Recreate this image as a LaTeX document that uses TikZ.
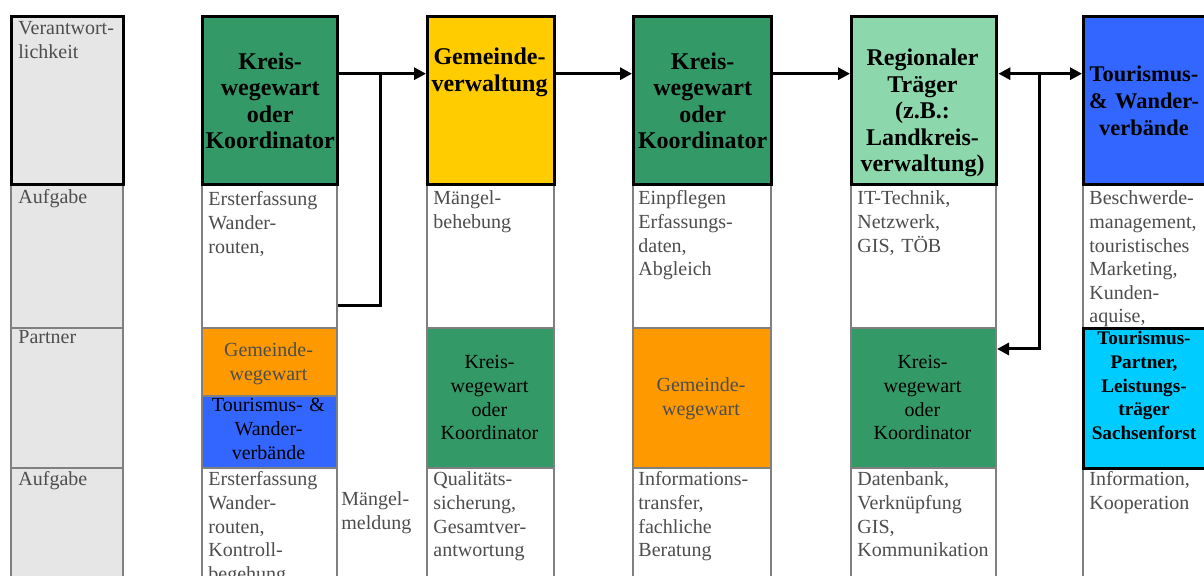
\documentclass[tikz,border=0pt]{standalone}
\usepackage{fontspec}
\setmainfont{Liberation Serif}
\usetikzlibrary{arrows.meta}
\definecolor{lblgray}{HTML}{E6E6E6}
\definecolor{cellgray}{HTML}{808080}
\definecolor{txtgray}{HTML}{4D4D4D}
\definecolor{kgreen}{HTML}{339966}
\definecolor{gyellow}{HTML}{FFCC00}
\definecolor{rgreen}{HTML}{8CD8AC}
\definecolor{tblue}{HTML}{3366FF}
\definecolor{gorange}{HTML}{FF9900}
\definecolor{pcyan}{HTML}{00CCFF}
\begin{document}
\begin{tikzpicture}[x=0.5pt,y=-0.5pt,
  cell/.style={draw=cellgray, line width=1pt, rectangle, inner sep=0pt, anchor=north west},
  headbox/.style={draw=black, line width=1.7pt, rectangle, inner sep=0pt, anchor=north west},
  body/.style={font=\fontsize{10pt}{11.8pt}\selectfont, text=txtgray, align=left, inner sep=0pt, anchor=base west, text width=80pt},
  ptxt/.style={font=\fontsize{10pt}{11.8pt}\selectfont, align=center, inner sep=0pt, anchor=base, text width=62pt},
  headtxt/.style={font=\bfseries\fontsize{12pt}{13.25pt}\selectfont, align=center, inner sep=0pt, text width=70pt},
  conn/.style={draw=black, line width=1.5pt},
  tip/.style={-{Triangle[length=6pt,width=6pt]}},
  tips/.style={{Triangle[length=6pt,width=6pt]}-{Triangle[length=6pt,width=6pt]}}
]
\useasboundingbox (0,0) rectangle (1204,576);
\clip (0,0) rectangle (1204,576);
\fill[white] (0,0) rectangle (1204,576);

% label column
\node[cell, fill=lblgray, minimum width=56pt, minimum height=72pt] (la) at (10,183) {};
\node[cell, fill=lblgray, minimum width=56pt, minimum height=70pt] (lp) at (10,327) {};
\node[cell, fill=lblgray, minimum width=56pt, minimum height=65pt] (lb) at (10,467) {};
\node[headbox, fill=lblgray, minimum width=56pt, minimum height=84pt] (lh) at (10,15) {};

% column 1
\node[cell, fill=white, minimum width=67.5pt, minimum height=72pt] (c1a) at (201,183) {};
\node[cell, fill=gorange, minimum width=67.5pt, minimum height=34pt] (c1p1) at (201,327) {};
\node[cell, fill=tblue, minimum width=67.5pt, minimum height=36pt] (c1p2) at (201,395) {};
\node[cell, fill=white, minimum width=67.5pt, minimum height=65pt] (c1b) at (201,467) {};
\node[headbox, fill=kgreen, minimum width=67.5pt, minimum height=84pt] (c1h) at (201,15) {};

% column 2
\node[cell, fill=white, minimum width=63.5pt, minimum height=72pt] (c2a) at (426,183) {};
\node[cell, fill=kgreen, minimum width=63.5pt, minimum height=70pt] (c2p) at (426,327) {};
\node[cell, fill=white, minimum width=63.5pt, minimum height=65pt] (c2b) at (426,467) {};
\node[headbox, fill=gyellow, minimum width=63.5pt, minimum height=84pt] (c2h) at (426,15) {};

% column 3
\node[cell, fill=white, minimum width=69pt, minimum height=72pt] (c3a) at (632,183) {};
\node[cell, fill=gorange, minimum width=69pt, minimum height=70pt] (c3p) at (632,327) {};
\node[cell, fill=white, minimum width=69pt, minimum height=65pt] (c3b) at (632,467) {};
\node[headbox, fill=kgreen, minimum width=69pt, minimum height=84pt] (c3h) at (632,15) {};

% column 4
\node[cell, fill=white, minimum width=72.5pt, minimum height=72pt] (c4a) at (850,183) {};
\node[cell, fill=kgreen, minimum width=72.5pt, minimum height=70pt] (c4p) at (850,327) {};
\node[cell, fill=white, minimum width=72.5pt, minimum height=65pt] (c4b) at (850,467) {};
\node[headbox, fill=rgreen, minimum width=72.5pt, minimum height=84pt] (c4h) at (850,15) {};

% column 5
\node[cell, fill=white, minimum width=64pt, minimum height=72pt] (c5a) at (1082,183) {};
\node[cell, fill=white, minimum width=64pt, minimum height=65pt] (c5b) at (1082,467) {};
\node[headbox, fill=pcyan, minimum width=64pt, minimum height=70pt] (c5p) at (1082,327) {};
\node[headbox, fill=tblue, minimum width=64pt, minimum height=84pt] (c5h) at (1082,15) {};

% header texts
\node[headtxt] (t1h) at (c1h.center) {Kreis-\\wegewart\\oder\\Koordinator};
\node[headtxt, anchor=base] (t2h) at (489.5,65) {Gemeinde-\\verwaltung};
\node[headtxt] (t3h) at (c3h.center) {Kreis-\\wegewart\\oder\\Koordinator};
\node[headtxt, anchor=base] (t4h) at (922.5,66) {Regionaler\\Träger\\(z.B.:\\Landkreis-\\verwaltung)};
\node[headtxt, anchor=base, font=\bfseries\fontsize{11.2pt}{13.5pt}\selectfont] (t5h) at (1144,82) {Tourismus-\\\& Wander-\\verbände};

% label texts
\node[body] (tl0) at (18,35) {Verantwort-\\lichkeit};
\node[body] (tl1) at (18,204) {Aufgabe};
\node[body] (tl2) at (18,344) {Partner};
\node[body] (tl3) at (18,486) {Aufgabe};

% Aufgabe row 1
\node[body] (t1a) at (208,206) {Ersterfassung\\Wander-\\routen,};
\node[body] (t2a) at (433,205) {Mängel-\\behebung};
\node[body] (t3a) at (638,205) {Einpflegen\\Erfassungs-\\daten,\\Abgleich};
\node[body] (t4a) at (857,205) {IT-Technik,\\Netzwerk,\\GIS, TÖB};
\node[body] (t5a) at (1089,205) {Beschwerde-\\management,\\touristisches\\Marketing,\\Kunden-\\aquise,};

% Partner row
\node[ptxt, text=txtgray] (t1p1) at (268.5,357) {Gemeinde-\\wegewart};
\node[ptxt] (t1p2) at (268.5,412) {Tourismus- \&\\Wander-\\verbände};
\node[ptxt] (t2p) at (489.5,369) {Kreis-\\wegewart\\oder\\Koordinator};
\node[ptxt, text=txtgray] (t3p) at (701,392) {Gemeinde-\\wegewart};
\node[ptxt] (t4p) at (922.5,369) {Kreis-\\wegewart\\oder\\Koordinator};
\node[ptxt, font=\bfseries\fontsize{9.6pt}{11.8pt}\selectfont] (t5p) at (1144,345) {Tourismus-\\Partner,\\Leistungs-\\träger\\Sachsenforst};

% Aufgabe row 2
\node[body] (t1b) at (208,486) {Ersterfassung\\Wander-\\routen,\\Kontroll-\\begehung};
\node[body] (tmm) at (341,506) {Mängel-\\meldung};
\node[body] (t2b) at (433,486) {Qualitäts-\\sicherung,\\Gesamtver-\\antwortung};
\node[body] (t3b) at (638,486) {Informations-\\transfer,\\fachliche\\Beratung};
\node[body] (t4b) at (857,486) {Datenbank,\\Verknüpfung\\GIS,\\Kommunikation};
\node[body] (t5b) at (1089,486) {Information,\\Kooperation};

% connectors
\coordinate (j1) at (380,72);
\coordinate (j2) at (1039,72);
\draw[conn] ([yshift=11.5pt]c1a.south east) -| (j1);
\draw[conn, tip] ([yshift=13.5pt]c1h.east) -- ([yshift=13.5pt]c2h.west);
\draw[conn, tip] ([yshift=13.5pt]c2h.east) -- ([yshift=13.5pt]c3h.west);
\draw[conn, tip] ([yshift=13.5pt]c3h.east) -- ([yshift=13.5pt]c4h.west);
\draw[conn, tips] ([yshift=13.5pt]c4h.east) -- ([yshift=13.5pt]c5h.west);
\draw[conn, tip] (j2) |- ([yshift=24.5pt]c4p.east);
\end{tikzpicture}
\end{document}
